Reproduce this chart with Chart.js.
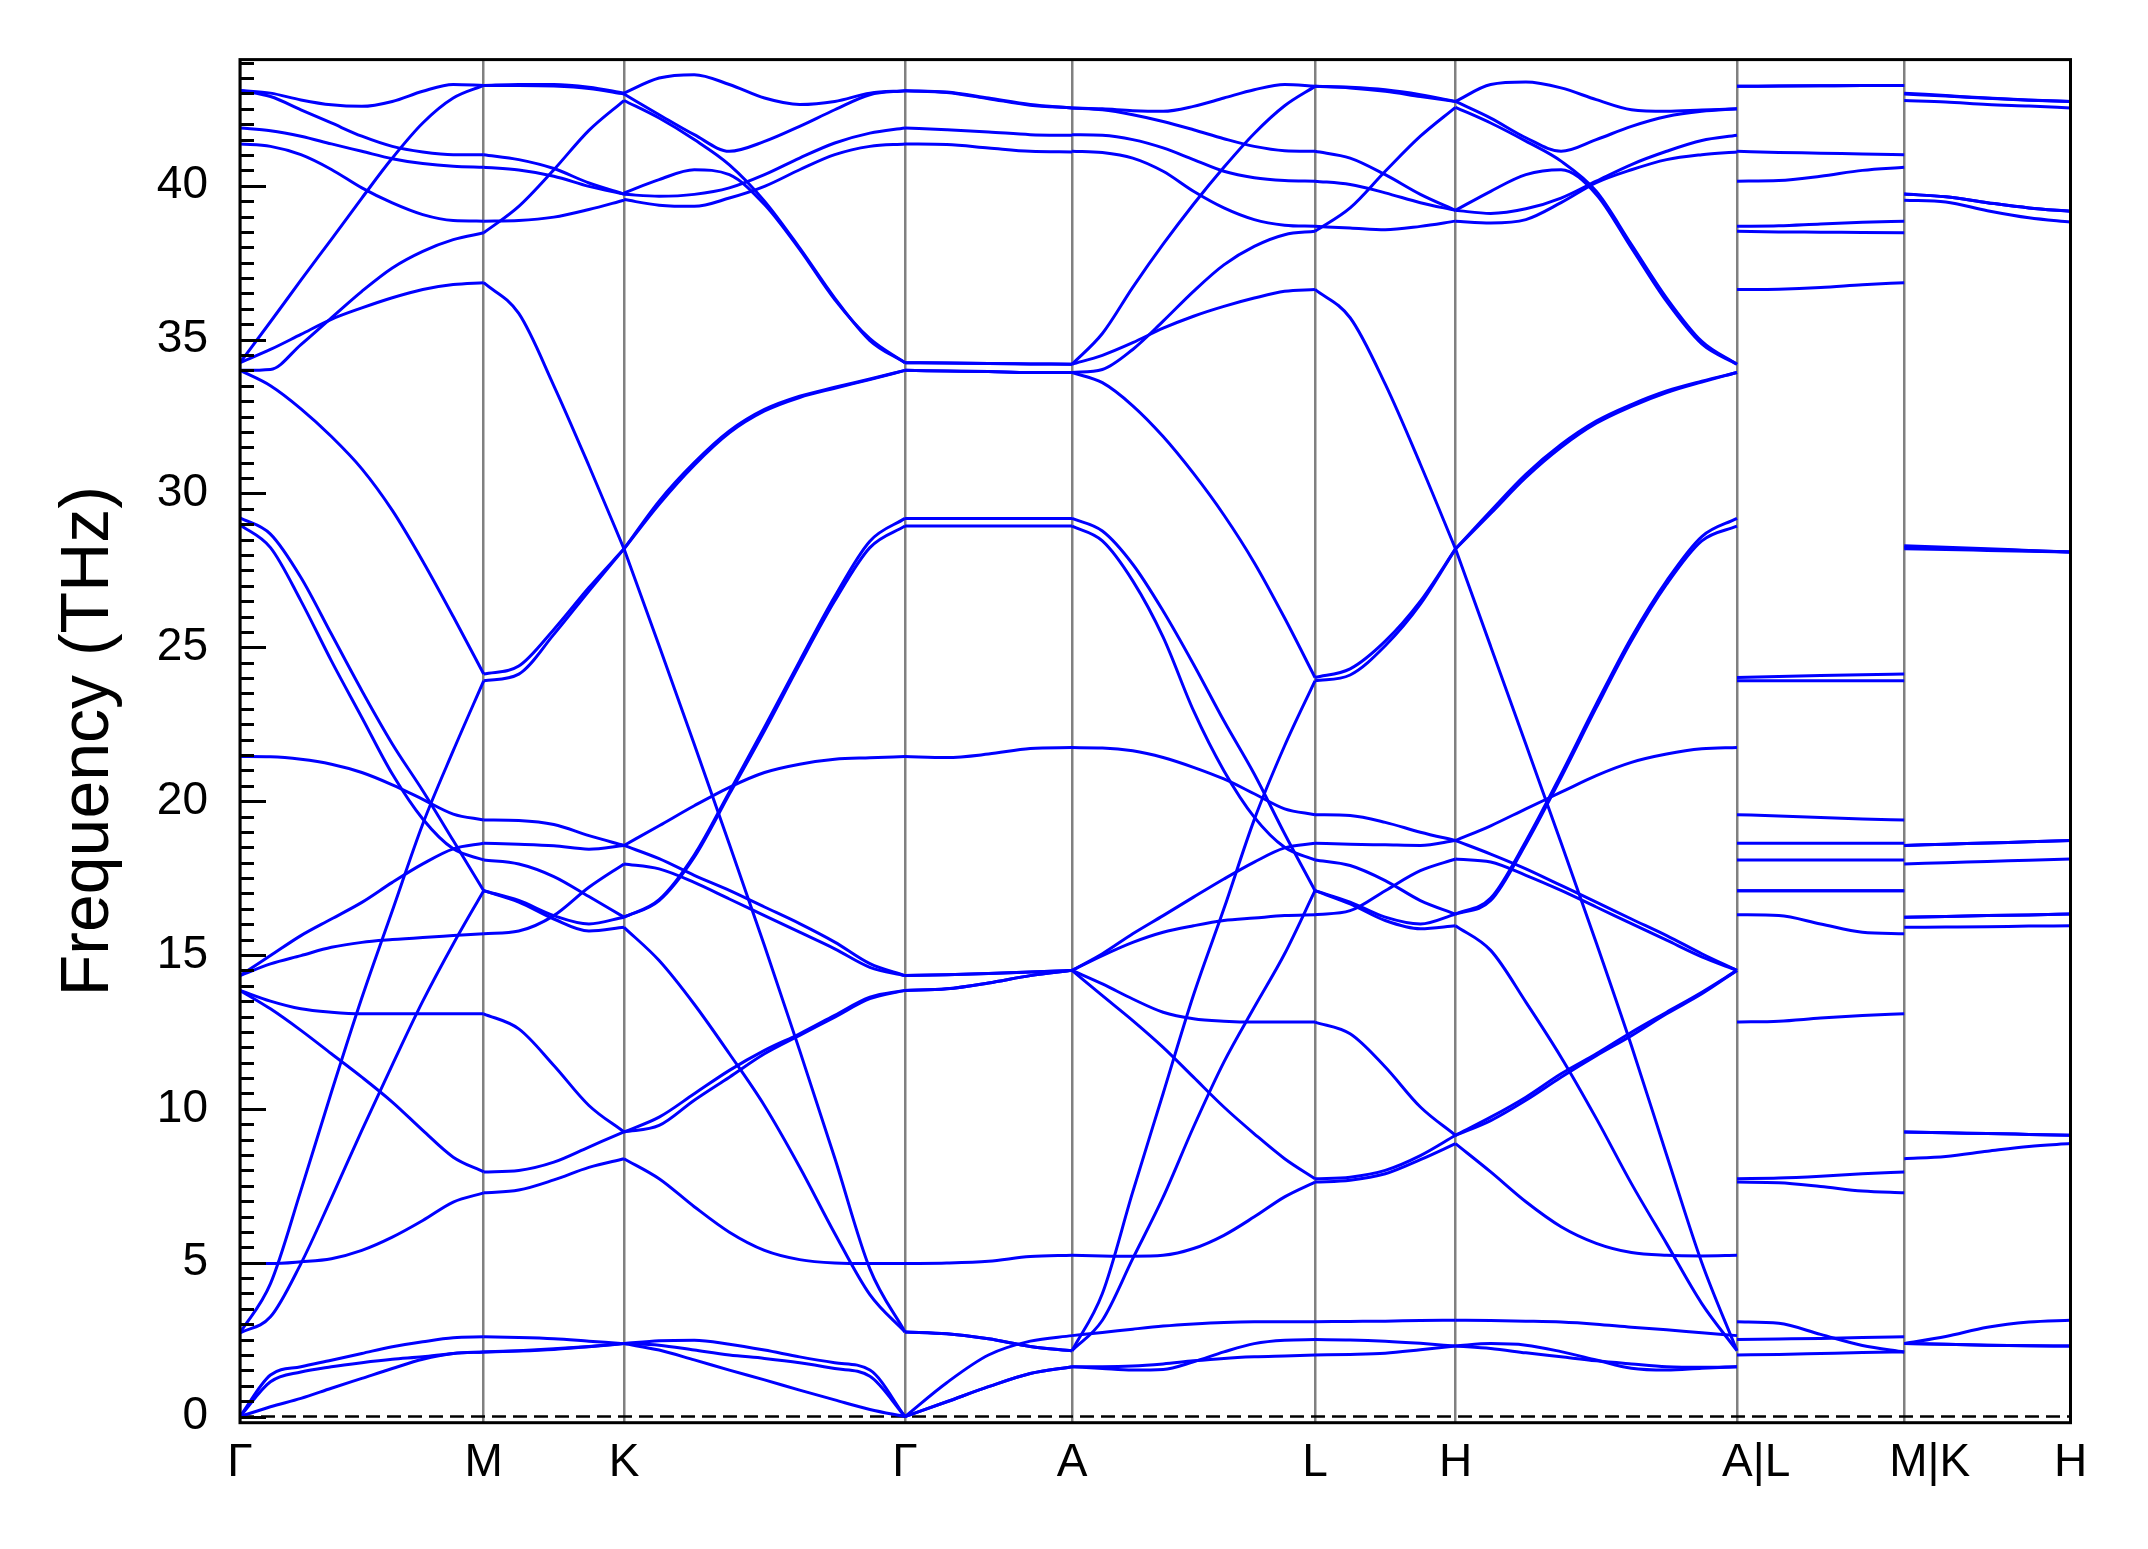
<!DOCTYPE html>
<html>
<head>
<meta charset="utf-8">
<title>Phonon dispersion</title>
<script src="https://cdn.jsdelivr.net/npm/chart.js@4.4.0/dist/chart.umd.min.js"></script>
<style>
  html, body { margin: 0; padding: 0; background: #fff; }
  #wrap { width: 2148px; height: 1549px; }
</style>
</head>
<body>
<div id="wrap"><canvas id="bandChart"></canvas></div>
<script>
// high-symmetry points: position along the path and label
const kPath = [0, 243.7, 384, 665, 832, 1075, 1215.5, 1497, 1664.2, 1830.5];
const kLabels = ['Γ', 'M', 'K', 'Γ', 'A', 'L', 'H', '   A|L', '    M|K', 'H'];
const freqTicks = [0, 5, 10, 15, 20, 25, 30, 35, 40];

// frequencies in THz, read at evenly spaced points of each segment (one row per band)
const bandsGM = [
  [43.1, 43.01, 42.79, 42.63, 42.58, 42.74, 43.07, 43.29, 43.26],
  [43.1, 42.9, 42.47, 42.04, 41.61, 41.28, 41.1, 41.01, 41.01],
  [41.88, 41.79, 41.61, 41.36, 41.12, 40.88, 40.72, 40.63, 40.6],
  [41.36, 41.28, 41.01, 40.53, 39.93, 39.44, 39.06, 38.87, 38.85],
  [34.25, 35.58, 36.93, 38.26, 39.6, 40.9, 42.04, 42.85, 43.26],
  [34.25, 34.68, 35.17, 35.66, 36.03, 36.36, 36.63, 36.79, 36.85],
  [34.0, 34.03, 34.84, 35.71, 36.57, 37.33, 37.87, 38.25, 38.47],
  [34.0, 33.5, 32.75, 31.85, 30.8, 29.45, 27.8, 26.0, 24.13],
  [29.21, 28.68, 27.27, 25.43, 23.59, 21.86, 20.34, 18.72, 17.09],
  [28.98, 28.24, 26.51, 24.56, 22.72, 20.88, 19.42, 18.45, 18.09],
  [21.45, 21.44, 21.36, 21.2, 20.93, 20.53, 20.06, 19.58, 19.39],
  [14.33, 14.98, 15.63, 16.17, 16.71, 17.36, 17.96, 18.45, 18.63],
  [14.33, 14.71, 14.98, 15.25, 15.41, 15.5, 15.57, 15.63, 15.69],
  [13.85, 13.5, 13.25, 13.14, 13.09, 13.09, 13.09, 13.09, 13.09],
  [13.85, 13.25, 12.55, 11.79, 11.03, 10.22, 9.3, 8.43, 7.95],
  [4.97, 4.97, 5.03, 5.13, 5.4, 5.83, 6.37, 6.97, 7.27],
  [2.72, 4.32, 7.35, 10.54, 13.61, 16.44, 19.26, 21.64, 23.91],
  [2.72, 3.24, 4.97, 7.1, 9.3, 11.43, 13.5, 15.36, 17.09],
  [0, 1.35, 1.62, 1.83, 2.05, 2.27, 2.43, 2.56, 2.59],
  [0, 1.13, 1.45, 1.62, 1.75, 1.86, 1.94, 2.05, 2.1],
  [0, 0.32, 0.59, 0.92, 1.24, 1.56, 1.86, 2.05, 2.1]
];

const bandsMK = [
  [43.26, 43.29, 43.29, 43.2, 43.01],
  [43.26, 43.26, 43.24, 43.16, 42.98],
  [41.01, 40.85, 40.56, 40.09, 39.73],
  [40.6, 40.51, 40.31, 39.98, 39.73],
  [38.85, 38.87, 38.98, 39.23, 39.53],
  [38.47, 39.33, 40.52, 41.8, 42.77],
  [36.85, 35.85, 33.5, 30.9, 28.2],
  [24.13, 24.39, 25.58, 26.94, 28.2],
  [23.91, 24.13, 25.42, 26.83, 28.2],
  [19.39, 19.37, 19.24, 18.88, 18.56],
  [18.63, 18.6, 18.55, 18.44, 18.56],
  [18.09, 17.96, 17.55, 16.9, 16.23],
  [17.09, 16.77, 16.28, 16.01, 16.23],
  [17.09, 16.72, 16.17, 15.78, 15.9],
  [15.69, 15.78, 16.28, 17.2, 17.96],
  [13.09, 12.6, 11.41, 10.11, 9.25],
  [7.95, 8.0, 8.27, 8.76, 9.25],
  [7.27, 7.36, 7.69, 8.1, 8.38],
  [2.59, 2.57, 2.53, 2.45, 2.37],
  [2.1, 2.13, 2.18, 2.27, 2.37],
  [2.1, 2.14, 2.2, 2.28, 2.37]
];

const bandsKG = [
  [43.01, 43.5, 43.61, 43.29, 42.85, 42.64, 42.74, 43.01, 43.09],
  [42.98, 42.31, 41.66, 41.12, 41.44, 41.93, 42.47, 42.96, 43.09],
  [42.77, 42.2, 41.5, 40.68, 39.5, 37.98, 36.35, 34.97, 34.25],
  [39.77, 40.2, 40.52, 40.36, 39.39, 37.93, 36.3, 35.03, 34.25],
  [39.72, 39.66, 39.72, 39.93, 40.36, 40.9, 41.39, 41.71, 41.88],
  [39.55, 39.37, 39.33, 39.6, 39.98, 40.52, 41.01, 41.28, 41.36],
  [28.2, 29.75, 31.0, 32.03, 32.73, 33.16, 33.45, 33.72, 34.0],
  [28.2, 29.65, 30.92, 31.97, 32.68, 33.12, 33.42, 33.7, 34.0],
  [28.2, 25.05, 21.85, 18.6, 15.3, 11.9, 8.4, 4.8, 2.75],
  [18.56, 19.2, 19.85, 20.45, 20.93, 21.2, 21.36, 21.41, 21.45],
  [18.56, 18.13, 17.59, 17.1, 16.56, 16.02, 15.42, 14.72, 14.33],
  [17.96, 17.8, 17.36, 16.82, 16.28, 15.74, 15.2, 14.6, 14.33],
  [16.23, 16.8, 18.25, 20.3, 22.4, 24.55, 26.65, 28.45, 29.19],
  [16.23, 16.77, 18.18, 20.23, 22.29, 24.45, 26.51, 28.24, 28.94],
  [15.9, 14.82, 13.4, 11.79, 10.1, 8.11, 5.95, 3.96, 2.75],
  [9.25, 9.73, 10.49, 11.25, 11.9, 12.44, 13.04, 13.63, 13.85],
  [9.25, 9.46, 10.28, 11.03, 11.79, 12.39, 12.98, 13.58, 13.85],
  [8.38, 7.73, 6.82, 5.99, 5.4, 5.1, 4.99, 4.97, 4.97],
  [2.37, 2.46, 2.48, 2.35, 2.16, 1.94, 1.75, 1.51, 0],
  [2.37, 2.32, 2.16, 2.0, 1.89, 1.75, 1.56, 1.31, 0],
  [2.37, 2.16, 1.84, 1.51, 1.19, 0.86, 0.54, 0.23, 0]
];

const bandsGA = [
  [43.09, 43.05, 42.85, 42.64, 42.53],
  [43.09, 43.03, 42.83, 42.62, 42.53],
  [41.88, 41.82, 41.75, 41.66, 41.64],
  [41.36, 41.34, 41.23, 41.12, 41.1],
  [34.25, 34.24, 34.22, 34.21, 34.2],
  [34.25, 34.24, 34.22, 34.21, 34.2],
  [34.0, 33.98, 33.96, 33.93, 33.93],
  [34.0, 33.98, 33.96, 33.93, 33.93],
  [29.19, 29.19, 29.19, 29.19, 29.19],
  [28.94, 28.94, 28.94, 28.94, 28.94],
  [21.45, 21.42, 21.53, 21.71, 21.74],
  [14.33, 14.36, 14.4, 14.45, 14.5],
  [14.33, 14.36, 14.4, 14.45, 14.5],
  [13.85, 13.9, 14.09, 14.33, 14.5],
  [13.85, 13.9, 14.09, 14.33, 14.5],
  [4.97, 4.99, 5.05, 5.2, 5.24],
  [2.75, 2.69, 2.53, 2.28, 2.14],
  [2.75, 2.69, 2.53, 2.28, 2.14],
  [0, 1.1, 2.0, 2.45, 2.63],
  [0, 0.48, 0.97, 1.4, 1.62],
  [0, 0.48, 0.97, 1.4, 1.62]
];

const bandsAL = [
  [42.53, 42.5, 42.44, 42.42, 42.58, 42.85, 43.12, 43.29, 43.23],
  [42.53, 42.47, 42.31, 42.09, 41.82, 41.53, 41.28, 41.14, 41.12],
  [41.66, 41.64, 41.5, 41.23, 40.85, 40.47, 40.26, 40.17, 40.15],
  [41.12, 41.08, 40.9, 40.47, 39.82, 39.28, 38.9, 38.72, 38.68],
  [34.2, 35.2, 36.7, 38.1, 39.4, 40.6, 41.7, 42.6, 43.23],
  [34.2, 34.49, 34.9, 35.37, 35.76, 36.08, 36.35, 36.57, 36.63],
  [33.93, 34.03, 34.68, 35.6, 36.57, 37.43, 38.03, 38.41, 38.52],
  [33.93, 33.6, 32.85, 31.85, 30.65, 29.3, 27.75, 25.95, 24.02],
  [29.19, 28.78, 27.7, 26.18, 24.45, 22.61, 20.88, 18.94, 17.09],
  [28.94, 28.46, 27.16, 25.33, 22.94, 20.99, 19.48, 18.5, 18.09],
  [21.74, 21.73, 21.64, 21.42, 21.1, 20.72, 20.24, 19.75, 19.56],
  [14.5, 15.04, 15.69, 16.28, 16.88, 17.47, 18.02, 18.48, 18.63],
  [14.5, 14.98, 15.41, 15.74, 15.95, 16.12, 16.2, 16.28, 16.31],
  [14.5, 14.06, 13.57, 13.14, 12.93, 12.85, 12.82, 12.82, 12.82],
  [14.5, 13.68, 12.87, 12.0, 11.03, 10.06, 9.19, 8.38, 7.73],
  [5.24, 5.22, 5.21, 5.24, 5.46, 5.89, 6.49, 7.14, 7.62],
  [2.14, 4.0, 7.3, 10.5, 13.7, 16.5, 19.4, 21.8, 23.91],
  [2.14, 3.13, 5.13, 7.13, 9.41, 11.52, 13.3, 15.04, 17.09],
  [2.63, 2.73, 2.84, 2.94, 3.01, 3.06, 3.08, 3.08, 3.08],
  [1.62, 1.56, 1.51, 1.53, 1.78, 2.1, 2.37, 2.48, 2.5],
  [1.62, 1.62, 1.64, 1.71, 1.81, 1.89, 1.94, 1.97, 2.0]
];

const bandsLH = [
  [43.23, 43.2, 43.12, 42.96, 42.74],
  [43.23, 43.18, 43.07, 42.9, 42.74],
  [38.52, 39.28, 40.47, 41.61, 42.55],
  [41.12, 40.9, 40.36, 39.72, 39.2],
  [40.15, 40.04, 39.77, 39.45, 39.2],
  [38.68, 38.63, 38.57, 38.68, 38.85],
  [36.63, 35.71, 33.55, 30.95, 28.2],
  [24.02, 24.3, 25.2, 26.5, 28.2],
  [23.91, 24.1, 25.05, 26.4, 28.2],
  [19.56, 19.53, 19.31, 18.99, 18.72],
  [18.63, 18.6, 18.58, 18.56, 18.72],
  [18.09, 17.91, 17.42, 16.77, 16.33],
  [16.31, 16.44, 17.09, 17.74, 18.12],
  [17.09, 16.72, 16.23, 16.01, 16.33],
  [17.09, 16.66, 16.12, 15.85, 15.95],
  [12.82, 12.44, 11.36, 10.06, 9.14],
  [7.73, 7.78, 8.0, 8.48, 9.14],
  [7.62, 7.68, 7.89, 8.35, 8.87],
  [3.08, 3.09, 3.1, 3.12, 3.13],
  [2.5, 2.49, 2.45, 2.38, 2.29],
  [2.0, 2.02, 2.06, 2.17, 2.29]
];

const bandsHA = [
  [42.74, 43.29, 43.37, 43.18, 42.8, 42.47, 42.42, 42.46, 42.5],
  [42.74, 42.2, 41.56, 41.12, 41.5, 41.93, 42.25, 42.42, 42.5],
  [42.55, 42.04, 41.45, 40.8, 39.82, 38.09, 36.35, 34.94, 34.2],
  [39.2, 39.82, 40.36, 40.52, 39.72, 37.98, 36.24, 34.86, 34.2],
  [39.2, 39.1, 39.25, 39.6, 40.15, 40.69, 41.12, 41.47, 41.64],
  [38.85, 38.79, 38.9, 39.45, 40.1, 40.52, 40.85, 41.01, 41.1],
  [28.2, 25.03, 21.85, 18.65, 15.4, 12.05, 8.5, 5.0, 2.14],
  [15.95, 15.15, 13.47, 11.68, 9.69, 7.57, 5.62, 3.67, 2.14],
  [28.2, 29.43, 30.62, 31.59, 32.35, 32.89, 33.33, 33.65, 33.93],
  [28.2, 29.35, 30.52, 31.5, 32.28, 32.83, 33.28, 33.62, 33.93],
  [16.33, 16.77, 18.61, 20.77, 23.04, 25.21, 27.05, 28.46, 28.94],
  [16.33, 16.85, 18.7, 20.87, 23.15, 25.32, 27.16, 28.6, 29.19],
  [18.72, 19.2, 19.75, 20.29, 20.83, 21.26, 21.53, 21.7, 21.74],
  [18.72, 18.28, 17.8, 17.26, 16.72, 16.17, 15.63, 15.04, 14.5],
  [18.12, 18.02, 17.59, 17.1, 16.56, 16.02, 15.48, 14.94, 14.5],
  [9.14, 9.73, 10.38, 11.14, 11.79, 12.49, 13.14, 13.79, 14.5],
  [9.14, 9.62, 10.28, 11.03, 11.73, 12.38, 13.09, 13.74, 14.5],
  [8.87, 7.95, 6.98, 6.17, 5.63, 5.33, 5.24, 5.22, 5.24],
  [3.13, 3.12, 3.1, 3.07, 3.0, 2.9, 2.82, 2.72, 2.63],
  [2.29, 2.37, 2.32, 2.11, 1.84, 1.57, 1.51, 1.57, 1.62],
  [2.29, 2.21, 2.07, 1.94, 1.81, 1.71, 1.62, 1.6, 1.62]
];

const bandsLM = [
  [43.23, 43.24, 43.25, 43.26, 43.26],
  [43.23, 43.24, 43.25, 43.26, 43.26],
  [41.12, 41.08, 41.06, 41.03, 41.01],
  [40.15, 40.17, 40.31, 40.5, 40.6],
  [38.68, 38.7, 38.76, 38.81, 38.85],
  [38.52, 38.5, 38.49, 38.48, 38.47],
  [36.63, 36.64, 36.69, 36.78, 36.85],
  [24.02, 24.05, 24.08, 24.11, 24.13],
  [23.91, 23.91, 23.91, 23.91, 23.91],
  [19.56, 19.52, 19.47, 19.42, 19.39],
  [18.63, 18.63, 18.63, 18.63, 18.63],
  [18.09, 18.09, 18.09, 18.09, 18.09],
  [17.09, 17.09, 17.09, 17.09, 17.09],
  [17.09, 17.09, 17.09, 17.09, 17.09],
  [16.31, 16.28, 16.01, 15.74, 15.69],
  [12.82, 12.85, 12.95, 13.03, 13.09],
  [7.73, 7.75, 7.81, 7.89, 7.95],
  [7.62, 7.6, 7.48, 7.33, 7.27],
  [3.08, 3.03, 2.67, 2.31, 2.1],
  [2.5, 2.52, 2.54, 2.57, 2.59],
  [2.0, 2.02, 2.05, 2.08, 2.1]
];

const bandsKH = [
  [43.01, 42.93, 42.85, 42.79, 42.74],
  [42.98, 42.92, 42.84, 42.78, 42.74],
  [42.77, 42.72, 42.64, 42.59, 42.53],
  [39.73, 39.64, 39.45, 39.28, 39.17],
  [39.73, 39.64, 39.45, 39.28, 39.17],
  [39.53, 39.47, 39.19, 38.96, 38.82],
  [28.3, 28.25, 28.2, 28.15, 28.1],
  [28.25, 28.22, 28.18, 28.14, 28.1],
  [28.2, 28.18, 28.15, 28.12, 28.1],
  [18.56, 18.6, 18.64, 18.68, 18.72],
  [18.56, 18.6, 18.64, 18.68, 18.72],
  [17.96, 18.0, 18.04, 18.08, 18.12],
  [16.23, 16.25, 16.28, 16.3, 16.33],
  [16.23, 16.25, 16.28, 16.3, 16.33],
  [15.9, 15.91, 15.92, 15.94, 15.95],
  [9.25, 9.22, 9.2, 9.17, 9.14],
  [9.25, 9.22, 9.2, 9.17, 9.14],
  [8.38, 8.45, 8.62, 8.78, 8.87],
  [2.37, 2.6, 2.9, 3.07, 3.13],
  [2.37, 2.35, 2.32, 2.3, 2.29],
  [2.37, 2.35, 2.32, 2.3, 2.29]
];

const segments = [bandsGM, bandsMK, bandsKG, bandsGA, bandsAL, bandsLH, bandsHA, bandsLM, bandsKH];

const fontFamily = '"Liberation Sans", Arial, sans-serif';

// one line per band per segment, samples spread evenly between the two points
const datasets = [];
segments.forEach((rows, s) => {
  const x0 = kPath[s], x1 = kPath[s + 1];
  rows.forEach(row => {
    datasets.push({
      data: row.map((f, j) => ({ x: x0 + (x1 - x0) * j / (row.length - 1), y: f })),
      borderColor: '#0000ff',
      borderWidth: 3,
      pointRadius: 0,
      cubicInterpolationMode: 'monotone',
      fill: false
    });
  });
});

// dashed zero line, inward ticks on the left and the black frame
const framePlugin = {
  id: 'frame',
  beforeDatasetsDraw(chart) {
    const { ctx, chartArea: a, scales: { y } } = chart;
    const y0 = y.getPixelForValue(0);
    ctx.save();
    ctx.strokeStyle = '#000';
    ctx.lineWidth = 2.5;
    ctx.setLineDash([14, 7]);
    ctx.beginPath();
    ctx.moveTo(a.left, y0);
    ctx.lineTo(a.right, y0);
    ctx.stroke();
    ctx.restore();
  },
  afterDraw(chart) {
    const { ctx, chartArea: a, scales: { y } } = chart;
    ctx.save();
    ctx.strokeStyle = '#000';
    ctx.lineWidth = 3;
    for (let v = 0; v <= 44; v += 0.5) {
      const py = Math.round(y.getPixelForValue(v)) + 0.5;
      const len = v % 5 === 0 ? 26 : 14;
      ctx.beginPath();
      ctx.moveTo(a.left, py);
      ctx.lineTo(a.left + len, py);
      ctx.stroke();
    }
    ctx.strokeRect(a.left, a.top, a.right - a.left, a.bottom - a.top);
    ctx.restore();
  }
};

new Chart(document.getElementById('bandChart'), {
  type: 'line',
  data: { datasets },
  options: {
    responsive: true,
    maintainAspectRatio: false,
    animation: false,
    events: [],
    layout: { padding: { top: 58, right: 77.5, bottom: 0, left: 0 } },
    plugins: {
      legend: { display: false },
      tooltip: { enabled: false }
    },
    scales: {
      x: {
        type: 'linear',
        min: 0,
        max: kPath[kPath.length - 1],
        afterBuildTicks: s => { s.ticks = kPath.map(v => ({ value: v })); },
        afterFit: s => { s.height = 126.3; },
        grid: { color: '#808080', lineWidth: 2.5, drawTicks: false },
        border: { display: false },
        ticks: {
          autoSkip: false,
          maxRotation: 0,
          padding: 13,
          color: '#000',
          font: { family: fontFamily, size: 46 },
          callback: (v, i) => kLabels[i]
        }
      },
      y: {
        min: -0.2,
        max: 44.1,
        afterBuildTicks: s => { s.ticks = freqTicks.map(v => ({ value: v })); },
        afterFit: s => { s.width = 240; },
        grid: { display: false, drawTicks: false },
        border: { display: false },
        ticks: {
          padding: 32,
          color: '#000',
          font: { family: fontFamily, size: 46 }
        },
        title: {
          display: true,
          text: 'Frequency (THz)',
          color: '#000',
          font: { family: fontFamily, size: 68 },
          padding: { top: 48, bottom: 0 }
        }
      }
    }
  },
  plugins: [framePlugin]
});
</script>
</body>
</html>
